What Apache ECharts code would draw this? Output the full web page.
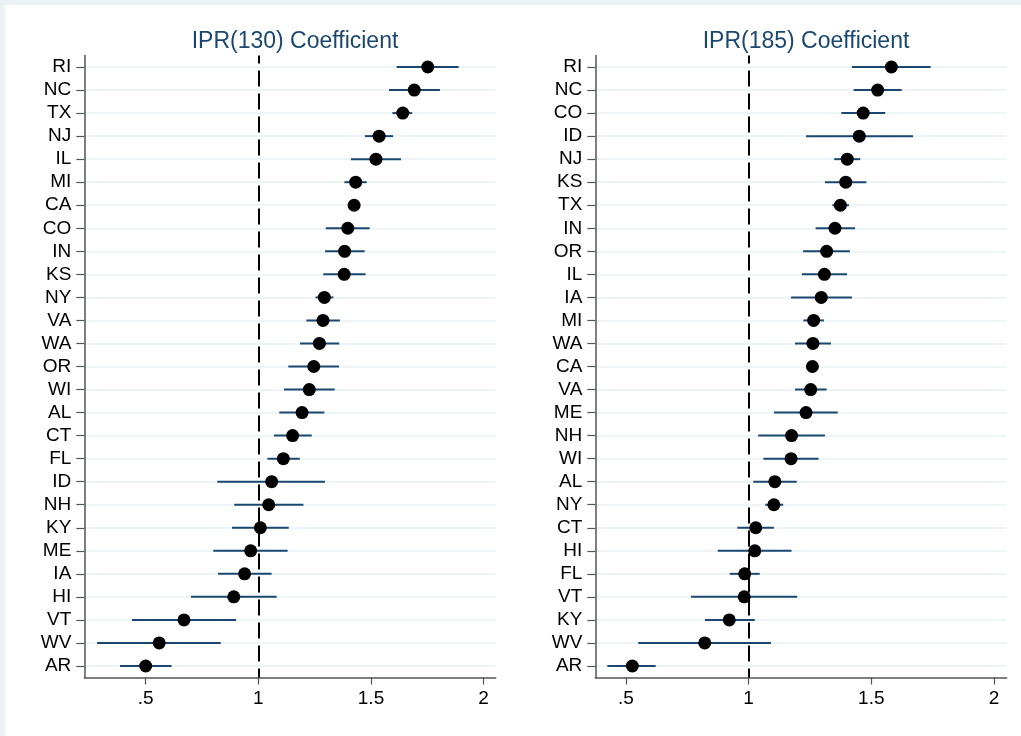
<!DOCTYPE html>
<html>
<head>
<meta charset="utf-8">
<script src="https://cdn.jsdelivr.net/npm/echarts@6/dist/echarts.min.js"></script>
<style>
html,body{margin:0;padding:0;background:#eaf2f3;}
#wrap{position:absolute;left:0;top:0;width:1021px;height:736px;background:#eaf2f3;}
#chart{position:absolute;left:5px;top:5px;width:1016px;height:731px;background:#ffffff;}
</style>
</head>
<body>
<div id="wrap"><div id="chart"></div></div>
<script>
// Left panel: IPR(130)
const title1 = 'IPR(130) Coefficient';
const states1 = ['RI','NC','TX','NJ','IL','MI','CA','CO','IN','KS','NY','VA','WA','OR','WI','AL','CT','FL','ID','NH','KY','ME','IA','HI','VT','WV','AR'];
const coef1 = [1.752,1.692,1.641,1.536,1.522,1.432,1.425,1.397,1.383,1.381,1.293,1.287,1.271,1.246,1.226,1.194,1.152,1.111,1.059,1.046,1.009,0.966,0.939,0.891,0.670,0.560,0.500];
const lo1 =   [1.614,1.580,1.595,1.473,1.411,1.382,1.405,1.299,1.296,1.288,1.254,1.213,1.185,1.133,1.114,1.093,1.069,1.040,0.818,0.893,0.883,0.800,0.821,0.701,0.439,0.284,0.386];
const hi1 =   [1.889,1.806,1.683,1.598,1.633,1.481,1.447,1.494,1.472,1.476,1.333,1.362,1.359,1.358,1.339,1.293,1.237,1.184,1.296,1.200,1.135,1.130,1.059,1.081,0.901,0.833,0.615];

// Right panel: IPR(185)
const title2 = 'IPR(185) Coefficient';
const states2 = ['RI','NC','CO','ID','NJ','KS','TX','IN','OR','IL','IA','MI','WA','CA','VA','ME','NH','WI','AL','NY','CT','HI','FL','VT','KY','WV','AR'];
const coef2 = [1.582,1.526,1.467,1.451,1.402,1.396,1.374,1.352,1.318,1.309,1.296,1.265,1.262,1.260,1.253,1.234,1.175,1.173,1.107,1.103,1.029,1.025,0.984,0.982,0.921,0.821,0.526];
const lo2 =   [1.421,1.428,1.378,1.234,1.349,1.311,1.341,1.273,1.222,1.217,1.173,1.223,1.189,1.237,1.189,1.103,1.039,1.060,1.019,1.068,0.954,0.874,0.923,0.765,0.822,0.550,0.424];
const hi2 =   [1.742,1.624,1.557,1.670,1.455,1.480,1.409,1.434,1.413,1.401,1.421,1.307,1.336,1.284,1.318,1.363,1.311,1.285,1.196,1.141,1.103,1.175,1.045,1.198,1.025,1.091,0.621];

const xTickValues = [0.5, 1, 1.5, 2];
const xTickLabels = ['.5', '1', '1.5', '2'];
const refValue = 1;
const xRange1 = [0.2275, 2.0535];
const xRange2 = [0.375, 2.052];

const navy = '#1a476f';
const axisGray = '#555555';
const gridColor = '#eaf2f3';
const FONT = 'Liberation Sans, Arial, Helvetica, sans-serif';

const chart = echarts.init(document.getElementById('chart'), null, {renderer: 'canvas'});

const gridTop = 50.5, gridHeight = 622, gridWidth = 411.4;
const gridLefts = [79.3, 590.3];

function yAxisFor(states, gi) {
  const idx = states.map((s, i) => i);
  return {
    type: 'value', gridIndex: gi, inverse: true, min: -0.5, max: states.length - 0.5,
    axisLine: {show: true, lineStyle: {color: axisGray, width: 1.5}},
    axisTick: {show: true, length: 8, lineStyle: {color: axisGray, width: 1.2}, customValues: idx},
    axisLabel: {show: true, margin: 13, color: '#000', fontFamily: FONT, fontSize: 19,
      customValues: idx, formatter: v => states[Math.round(v)]},
    splitLine: {show: true, lineStyle: {color: gridColor, width: 1.5}}
  };
}
function xAxisFor(range, gi) {
  return {
    type: 'value', gridIndex: gi, min: range[0], max: range[1],
    axisLine: {show: true, onZero: false, lineStyle: {color: axisGray, width: 1.5}},
    axisTick: {show: true, length: 7, lineStyle: {color: axisGray, width: 1.2}, customValues: xTickValues},
    axisLabel: {show: true, margin: 12, color: '#000', fontFamily: FONT, fontSize: 19,
      customValues: xTickValues, formatter: v => xTickLabels[xTickValues.indexOf(v)] !== undefined ? xTickLabels[xTickValues.indexOf(v)] : ''},
    splitLine: {show: false}
  };
}
function ciSeries(lo, hi, gi) {
  return {
    type: 'custom', xAxisIndex: gi, yAxisIndex: gi, z: 3,
    data: lo.map((l, i) => [l, hi[i], i]),
    encode: {x: [0, 1], y: 2},
    renderItem: function (params, api) {
      const a = api.coord([api.value(0), api.value(2)]);
      const b = api.coord([api.value(1), api.value(2)]);
      return {type: 'line', shape: {x1: a[0], y1: a[1], x2: b[0], y2: b[1]},
        style: {stroke: navy, lineWidth: 2}};
    }
  };
}
function dotSeries(coef, gi) {
  return {
    type: 'scatter', xAxisIndex: gi, yAxisIndex: gi, z: 4,
    symbol: 'circle', symbolSize: 13,
    itemStyle: {color: '#000', opacity: 1},
    data: coef.map((c, i) => [c, i]),
    markLine: {
      silent: true, symbol: 'none', z: 2, animation: false,
      label: {show: false},
      lineStyle: {color: '#000', width: 2, type: [16, 7], dashOffset: 8},
      data: [{xAxis: refValue}]
    }
  };
}

const option = {
  animation: false,
  backgroundColor: '#ffffff',
  textStyle: {fontFamily: FONT},
  title: [
    {text: title1, left: gridLefts[0] + gridWidth / 2, top: 20, textAlign: 'center',
      textStyle: {color: navy, fontSize: 23, fontWeight: 'normal', fontFamily: FONT}},
    {text: title2, left: gridLefts[1] + gridWidth / 2, top: 20, textAlign: 'center',
      textStyle: {color: navy, fontSize: 23, fontWeight: 'normal', fontFamily: FONT}}
  ],
  grid: [
    {left: gridLefts[0], top: gridTop, width: gridWidth, height: gridHeight},
    {left: gridLefts[1], top: gridTop, width: gridWidth, height: gridHeight}
  ],
  xAxis: [xAxisFor(xRange1, 0), xAxisFor(xRange2, 1)],
  yAxis: [yAxisFor(states1, 0), yAxisFor(states2, 1)],
  series: [
    ciSeries(lo1, hi1, 0), dotSeries(coef1, 0),
    ciSeries(lo2, hi2, 1), dotSeries(coef2, 1)
  ]
};
chart.setOption(option);
</script>
</body>
</html>
